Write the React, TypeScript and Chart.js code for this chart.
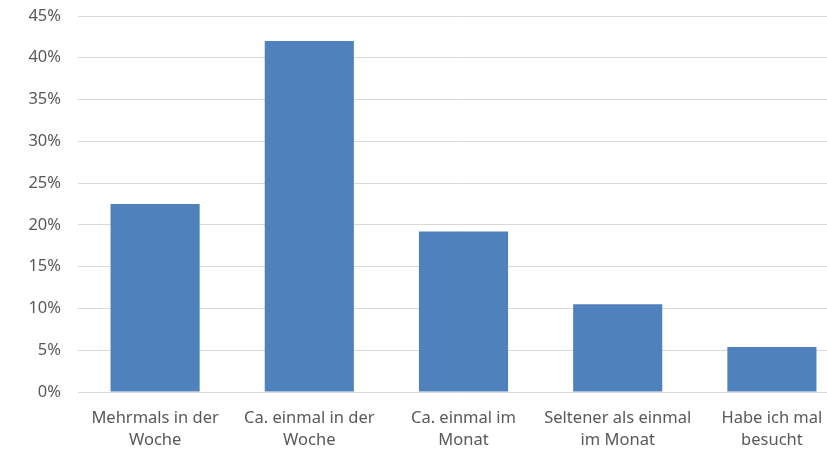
import React, { useEffect, useRef } from "react";
import { Chart, registerables } from "chart.js";

Chart.register(...registerables);

const categories: string[][] = [
  ["Mehrmals in der", "Woche"],
  ["Ca. einmal in der", "Woche"],
  ["Ca. einmal im", "Monat"],
  ["Seltener als einmal", "im Monat"],
  ["Habe ich mal", "besucht"],
];
const values: number[] = [22.5, 42, 19.2, 10.5, 5.4];
const yMax = 45;
const yStep = 5;

const FONT = "'Noto Sans', 'Open Sans', sans-serif";
const TEXT = "#595959";

export default function App() {
  const ref = useRef<HTMLCanvasElement>(null);
  useEffect(() => {
    if (!ref.current) return;
    const chart = new Chart(ref.current, {
      type: "bar",
      data: {
        labels: categories,
        datasets: [
          {
            data: values,
            backgroundColor: "#4f81bd",
            borderWidth: 0,
            categoryPercentage: 1,
            barPercentage: 0.578,
          },
        ],
      },
      options: {
        responsive: false,
        animation: false,
        devicePixelRatio: 1,
        layout: { padding: { top: 16, right: 1, left: 0, bottom: 0 } },
        plugins: { legend: { display: false }, tooltip: { enabled: false } },
        scales: {
          x: {
            offset: true,
            grid: { display: false, drawTicks: false },
            border: { display: false },
            ticks: {
              color: TEXT,
              font: { family: FONT, size: 16.5, lineHeight: 1.33 },
              padding: 15,
              maxRotation: 0,
              autoSkip: false,
            },
            afterFit: (s: any) => {
              s.height = 57;
              s.paddingLeft = 0;
              s.paddingRight = 0;
            },
          },
          y: {
            min: 0,
            max: yMax,
            grid: { color: "#d9d9d9", lineWidth: 1, drawTicks: false },
            border: { display: false },
            ticks: {
              stepSize: yStep,
              color: TEXT,
              font: { family: FONT, size: 16.5 },
              padding: 17,
              callback: (v: any) => v + "%",
            },
            afterFit: (s: any) => {
              s.width = 78;
              s.paddingTop = 0;
              s.paddingBottom = 0;
            },
          },
        },
      },
    });
    return () => chart.destroy();
  }, []);
  return (
    <div
      style={{
        position: "fixed",
        left: 0,
        top: 0,
        width: 827,
        height: 449,
        overflow: "hidden",
        background: "#fff",
      }}
    >
      <canvas ref={ref} width={850} height={449} style={{ display: "block" }} />
    </div>
  );
}
